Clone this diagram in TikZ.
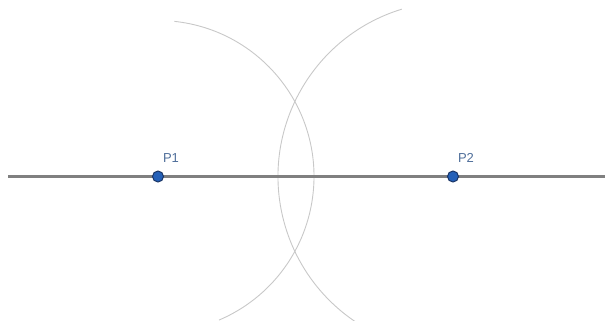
\documentclass[tikz,border=0pt]{standalone}
\usepackage{fontspec}
\setmainfont{Liberation Sans}
\definecolor{linegray}{HTML}{808080}
\definecolor{arcgray}{HTML}{C8C8C8}
\definecolor{ptfill}{HTML}{2460B8}
\definecolor{ptedge}{HTML}{1A3566}
\definecolor{lblcol}{HTML}{4F6E9A}
\begin{document}
\begin{tikzpicture}[x=1pt,y=-1pt,
  pt/.style={circle,fill=ptfill,draw=ptedge,line width=1pt,inner sep=0pt,minimum size=11pt},
  lbl/.style={text=lblcol,font=\fontsize{13pt}{15pt}\selectfont,inner sep=0pt},
  mainline/.style={draw=linegray,line width=2.4pt},
  arcline/.style={draw=arcgray,line width=0.9pt}]
\useasboundingbox (0,0) rectangle (605,321);
\coordinate (L) at (8,176.5);
\coordinate (R) at (605,176.5);
\coordinate (c1) at (158,176.5);
\coordinate (c2) at (453,176.5);
% arcs
\draw[arcline] (c1) ++(-84:156) arc[start angle=-84, end angle=67, radius=156];
\draw[arcline] (c2) ++(-107:175) arc[start angle=-107, end angle=-236, radius=175];
\draw[mainline] (L) -- (R);
\node[pt] (P1) at (c1) {};
\node[pt] (P2) at (c2) {};
\node[lbl] (l1) at (171,158) {P1};
\node[lbl] (l2) at (466,158) {P2};
\end{tikzpicture}
\end{document}
